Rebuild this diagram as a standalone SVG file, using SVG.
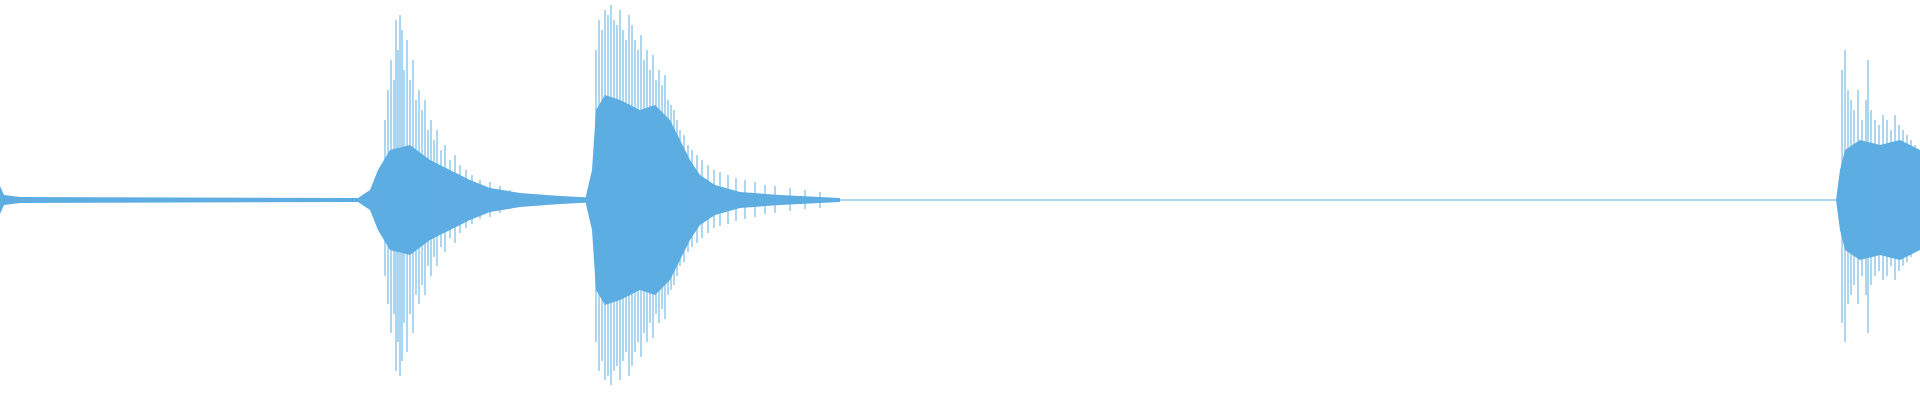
<svg xmlns="http://www.w3.org/2000/svg" width="1920" height="400" viewBox="0 0 1920 400">
<style>.w{stroke:#5DADE2;stroke-width:1;fill:none}.f{fill:#5DADE2;stroke:none}</style>
<rect width="1920" height="400" fill="#fff"/>
<path class="w" d="M0 200H1920"/>
<path class="f" d="M0 186L4 195L20 197L360 198L360 202L20 203L4 205L0 214Z"/>
<path class="f" d="M355 200L370 190L378 170L390 150L410 145L430 160L450 170L470 180L490 188L520 193L560 196L600 198L600 202L560 204L520 207L490 212L470 220L450 230L430 240L410 255L390 250L378 230L370 210Z"/>
<path class="f" d="M585 200L592 170L596 110L605 95L620 100L640 110L655 105L670 120L680 140L690 160L700 175L715 185L740 192L780 195L840 198L840 202L780 205L740 208L715 215L700 225L690 240L680 260L670 280L655 295L640 290L620 300L605 305L596 290L592 230Z"/>
<path class="f" d="M1836 200L1840 170L1845 150L1860 140L1880 145L1900 140L1920 150L1920 250L1900 260L1880 255L1860 260L1845 250L1840 230Z"/>
<path class="w" d="M385 120V276M388 90V304M391 60V333M394 80V314M396 20V371M398 50V342M400 15V376M402 30V361M404 70V323M407 40V352M410 80V314M413 60V333M416 100V295M419 90V304M422 110V285M425 100V295M428 130V266M431 120V276M434 140V257M437 130V266M441 150V247M445 145V252M450 160V238M455 155V243M460 165V233M466 170V228M472 175V224M480 180V219M490 182V217M500 186V213M510 190V209"/>
<path class="w" d="M596 50V342M599 20V371M602 30V361M605 10V380M608 15V376M611 5V385M614 20V371M617 25V366M620 10V380M623 30V361M626 40V352M629 15V376M632 25V366M635 40V352M638 50V342M641 35V357M644 60V333M647 50V342M650 70V323M653 55V338M656 80V314M659 70V323M662 85V309M665 75V319M668 100V295M671 105V290M674 110V285M677 120V276M680 130V266M684 135V262M688 145V252M692 150V247M697 155V243M702 160V238M708 165V233M714 170V228M720 172V226M728 175V224M736 178V221M745 180V219M755 182V217M765 185V214M775 186V213M790 188V211M805 190V209M820 192V208"/>
<path class="w" d="M1842 70V323M1845 50V342M1848 90V304M1851 100V295M1854 110V285M1858 90V304M1862 120V276M1866 100V295M1868 60V333M1871 110V285M1875 120V276M1879 125V271M1883 115V280M1887 120V276M1891 130V266M1895 115V280M1899 125V271M1903 130V266M1907 135V262M1911 140V257M1915 145V252M1918 150V247"/>
</svg>
